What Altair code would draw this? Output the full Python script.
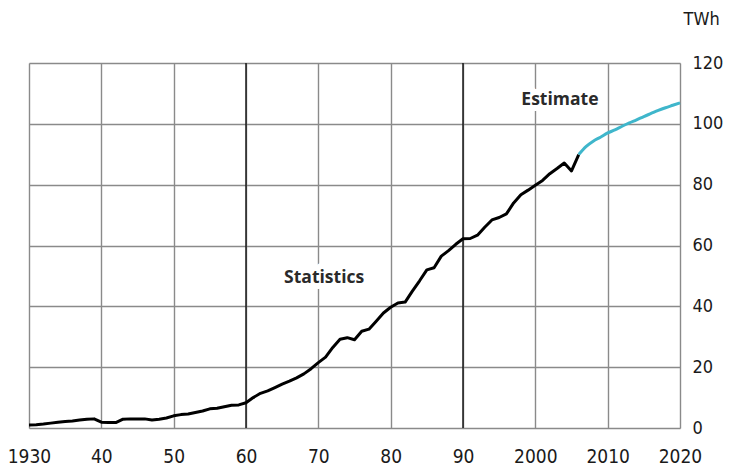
import altair as alt
import pandas as pd

# ---- data ----
stat_years = list(range(1930, 2007))
stat_values = [
    1.0, 1.1, 1.3, 1.6, 1.9, 2.1, 2.3, 2.6, 2.9, 3.0,      # 1930-1939
    1.9, 1.8, 1.8, 2.9, 3.0, 3.0, 3.0, 2.6, 2.9, 3.3,      # 1940-1949
    4.0, 4.4, 4.6, 5.1, 5.6, 6.3, 6.5, 7.0, 7.5, 7.6,      # 1950-1959
    8.3, 10.0, 11.4, 12.2, 13.3, 14.4, 15.4, 16.5, 17.8, 19.5,  # 1960-1969
    21.5, 23.3, 26.5, 29.2, 29.7, 29.0, 31.8, 32.5, 35.1, 37.8,  # 1970-1979
    39.7, 41.1, 41.4, 45.0, 48.4, 52.0, 52.7, 56.5, 58.3, 60.4,  # 1980-1989
    62.2, 62.3, 63.4, 66.0, 68.4, 69.2, 70.4, 74.0, 76.7, 78.2,  # 1990-1999
    79.8, 81.4, 83.6, 85.3, 87.1, 84.5, 89.9,                    # 2000-2006
]
est_years = list(range(2006, 2021))
est_values = [89.9, 92.5, 94.3, 95.6, 97.0, 98.0, 99.2, 100.3, 101.3,
              102.4, 103.4, 104.4, 105.3, 106.1, 106.9]

label_text = ["Statistics", "Estimate"]
label_year = [1970.8, 2003.4]
label_value = [49.4, 107.7]

dark_grid_years = [1960, 1990]
x_ticks = list(range(1930, 2021, 10))
y_ticks = [0, 20, 40, 60, 80, 100, 120]

stat_df = pd.DataFrame({"year": stat_years, "twh": stat_values})
est_df = pd.DataFrame({"year": est_years, "twh": est_values})
lab_df = pd.DataFrame({"year": label_year, "twh": label_value, "label": label_text})
dark_df = pd.DataFrame({"year": dark_grid_years})

TICK_FONT = "DejaVu Sans Condensed, Roboto, sans-serif"

x_enc = alt.X(
    "year:Q",
    scale=alt.Scale(domain=[1930, 2020], nice=False, zero=False),
    axis=alt.Axis(
        values=x_ticks, grid=True, gridColor="#8a8a8a", gridWidth=1.4,
        domain=False, ticks=False, title=None,
        labelFont=TICK_FONT, labelFontSize=19, labelColor="#1a1a1a",
        labelPadding=19, labelFlush=False, labelOverlap=False,
        labelExpr="(datum.value == 1930 || datum.value >= 2000) ? datum.value : datum.value % 100",
    ),
)
y_enc = alt.Y(
    "twh:Q",
    scale=alt.Scale(domain=[0, 120], nice=False),
    axis=alt.Axis(
        orient="right", values=y_ticks, grid=True, gridColor="#8a8a8a", gridWidth=1.4,
        domain=False, ticks=False,
        labelFont=TICK_FONT, labelFontSize=18, labelColor="#1a1a1a",
        labelAlign="left", labelBaseline="middle", labelPadding=12,
        labelFlush=False, labelOverlap=False,
        title="TWh", titleAngle=0, titleFont=TICK_FONT, titleFontSize=18,
        titleFontWeight="normal", titleColor="#1a1a1a",
        titleAlign="left", titleBaseline="middle", titleX=3, titleY=-44,
    ),
)

dark_rules = alt.Chart(dark_df).mark_rule(color="#111111", strokeWidth=1.4).encode(x=x_enc)

stat_line = alt.Chart(stat_df).mark_line(color="#000000", strokeWidth=3, strokeJoin="round").encode(
    x=x_enc, y=y_enc
)
est_line = alt.Chart(est_df).mark_line(color="#3fb6cb", strokeWidth=3, interpolate="monotone").encode(
    x=x_enc, y=y_enc
)

halo = alt.Chart(lab_df).mark_text(
    font="Open Sans", fontSize=17.5, fontWeight="bold", fill="white",
    stroke="white", strokeWidth=12, strokeJoin="round", baseline="middle", align="center",
).encode(x=x_enc, y=y_enc, text="label:N")
labels = alt.Chart(lab_df).mark_text(
    font="Open Sans", fontSize=17.5, fontWeight="bold", color="#2a2a2a",
    baseline="middle", align="center",
).encode(x=x_enc, y=y_enc, text="label:N")

chart = (
    alt.layer(dark_rules, stat_line, est_line, halo, labels)
    .properties(
        width=651, height=365,
        autosize=alt.AutoSizeParams(type="none"),
        padding={"left": 21, "top": 55, "right": 44, "bottom": 38},
    )
    .configure_view(stroke="#111111", strokeWidth=1.6)
    .configure(background="white")
)

chart.save("out.html", embed_options={"renderer": "svg", "actions": False})
